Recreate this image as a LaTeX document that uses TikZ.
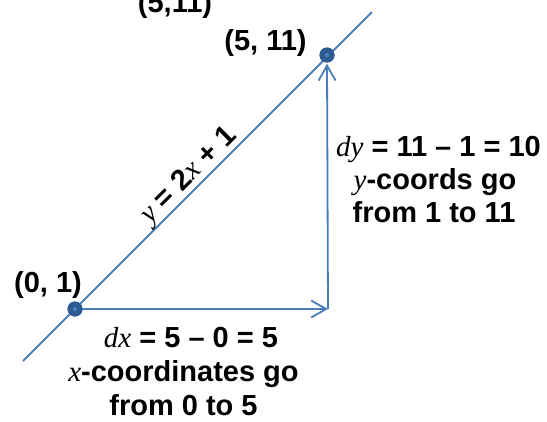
\documentclass[tikz,border=0pt]{standalone}
\usepackage{fontspec}
\setmainfont{Liberation Sans}
\newfontfamily\tmsfam{Liberation Serif}
\newcommand\vr[1]{{\tmsfam\mdseries\itshape #1}}
\usetikzlibrary{arrows.meta}
\definecolor{lineblue}{HTML}{4A7EBB}
\definecolor{dotblue}{HTML}{2E5A92}
\begin{document}
\begin{tikzpicture}[x=1pt,y=1pt,
  lbl/.style={font=\fontsize{29}{34}\selectfont\bfseries, inner sep=0pt, anchor=base, text=black},
  pline/.style={draw=lineblue, line width=1.8pt},
  arr/.style={pline, -{Straight Barb[length=15pt,width=17pt]}},
  dotnode/.style={circle, fill=dotblue, minimum size=15pt, inner sep=0pt}]
\path[use as bounding box] (0,0) rectangle (547,-421);
% coordinates
\coordinate (L1) at (23,-361);
\coordinate (L2) at (372,-12);
\coordinate (C) at (328,-309);
\node[dotnode] (A) at (75,-309) {};
\node[dotnode] (B) at (327,-55) {};
% lines
\draw[pline] (L1) -- (L2);
\draw[arr] (A.center) -- (C);
\draw[arr, shorten >=1pt] (C) -- (B.south);
% dots on top
\node[dotnode] at (A) {};
\node[dotnode] at (B) {};
\fill[lineblue] (A) circle (2.2pt);
\fill[lineblue] (B) circle (2.2pt);
% labels
\node[lbl] (t0) at (175,-12.5) {(5,11)};
\node[lbl] (tB) at (265.5,-50) {(5, 11)};
\node[lbl] (tA) at (48,-292.7) {(0, 1)};
\node[lbl, anchor=center, rotate=45] (eq) at (189,-176) {\vr{y} = 2\vr{x} + 1};
\node[lbl] (r1) at (438.5,-156) {\vr{dy} = 11 – 1 = 10};
\node[lbl] (r2) at (435,-189) {\vr{y}-coords go};
\node[lbl] (r3) at (434,-222) {from 1 to 11};
\node[lbl] (b1) at (191,-347.7) {\vr{dx} = 5 – 0 = 5};
\node[lbl] (b2) at (183.5,-381) {\vr{x}-coordinates go};
\node[lbl] (b3) at (183.5,-415) {from 0 to 5};
\end{tikzpicture}
\end{document}
